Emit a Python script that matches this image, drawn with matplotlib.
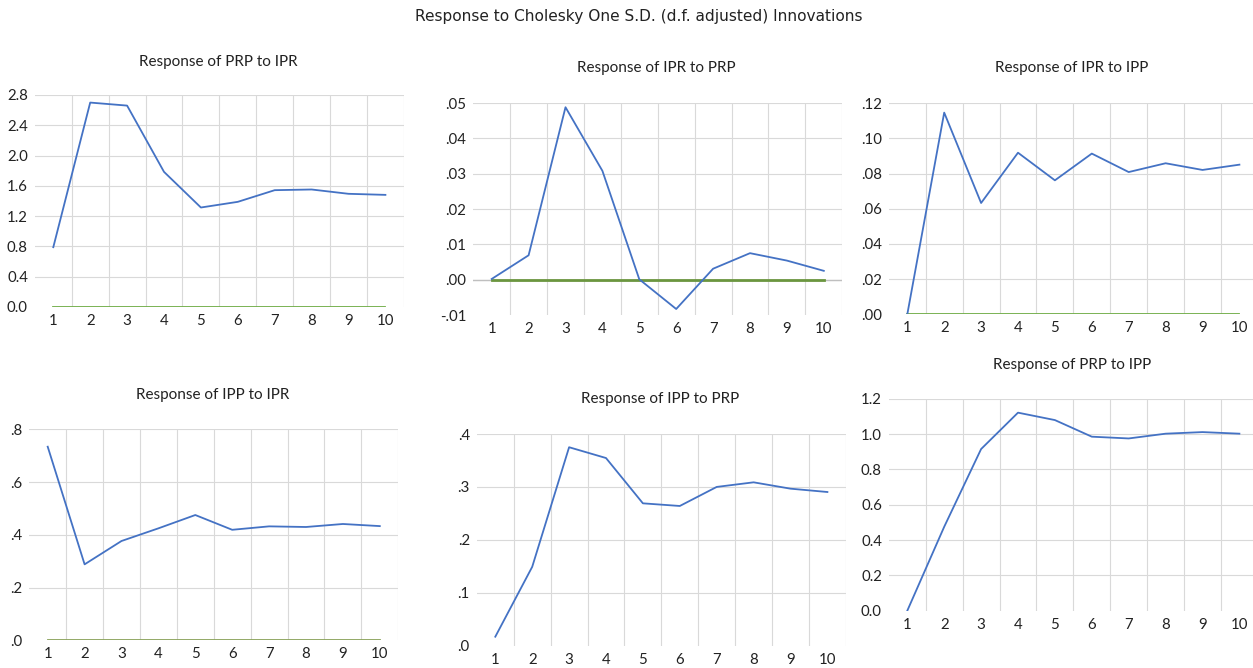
#!/usr/bin/env python3

import numpy as np
import matplotlib.pyplot as plt
from matplotlib.ticker import FuncFormatter

# =========================
# DATA
# =========================
PERIODS = list(range(1, 11))

prp_to_ipr = [0.79, 2.70, 2.66, 1.785, 1.314, 1.389, 1.543, 1.552, 1.495, 1.481]
ipr_to_prp = [0.0002, 0.0069, 0.0488, 0.0308, 0.0001, -0.0083, 0.0031, 0.0075, 0.0054, 0.0025]
ipr_to_ipp = [0.0, 0.1147, 0.0633, 0.0919, 0.0762, 0.0914, 0.0809, 0.0859, 0.0821, 0.0851]
ipp_to_ipr = [0.734, 0.288, 0.3765, 0.4245, 0.475, 0.419, 0.432, 0.4296, 0.441, 0.433]
ipp_to_prp = [0.017, 0.149, 0.375, 0.3546, 0.269, 0.264, 0.300, 0.3087, 0.2967, 0.2904]
prp_to_ipp = [0.0, 0.475, 0.915, 1.121, 1.079, 0.985, 0.975, 1.002, 1.011, 1.002]

TITLES = [
    "Response of PRP to IPR",
    "Response of IPR to PRP",
    "Response of IPR to IPP",
    "Response of IPP to IPR",
    "Response of IPP to PRP",
    "Response of PRP to IPP",
]
SERIES = [prp_to_ipr, ipr_to_prp, ipr_to_ipp, ipp_to_ipr, ipp_to_prp, prp_to_ipp]
YLIMS = [(0.0, 2.8), (-0.01, 0.05), (0.0, 0.12), (0.0, 0.8), (0.0, 0.4), (0.0, 1.2)]
YSTEPS = [0.4, 0.01, 0.02, 0.2, 0.1, 0.2]
# number of decimals, and whether the leading zero is dropped (".05")
YFMT = [(1, False), (2, True), (2, True), (1, True), (1, True), (1, False)]
SHOW_ZERO = [True, True, True, True, False, False]

# =========================
# LAYOUT (pixels)
# =========================
W, H = 1253, 668
SPACING = 36.9
# x pixel of period 1, y pixel of top limit, y pixel of bottom limit
BOXES = [
    (53.3, 95.0, 307.0),
    (491.7, 103.0, 315.0),
    (907.3, 103.3, 314.3),
    (47.7, 429.3, 640.3),
    (495.3, 434.0, 645.7),
    (907.3, 398.7, 610.7),
]
TITLE_POS = [(218, 62), (656, 68), (1072, 68), (213, 395), (660, 399), (1072, 365)]

BLUE = "#4472C4"
GREEN = "#70AD47"
ZERO_GREEN = ["#70AD47", "#6B963F", "#70AD47", "#8AA35A"]
GRID = "#D9D9D9"
FONT = "Lato"


def make_fmt(dec, strip):
    def f(v, pos):
        s = f"{v:.{dec}f}"
        if strip:
            if s.startswith("0."):
                s = s[1:]
            elif s.startswith("-0."):
                s = "-" + s[2:]
        return s
    return FuncFormatter(f)


def main():
    fig = plt.figure(figsize=(W / 100, H / 100), dpi=100)

    fig.text(639 / W, 1 - 16 / H,
             "Response to Cholesky One S.D. (d.f. adjusted) Innovations",
             ha="center", va="center", fontsize=11.1, family="DejaVu Sans",
             color="#222222")

    for i in range(6):
        x1, top, bot = BOXES[i]
        left = x1 - 0.5 * SPACING
        width = 10 * SPACING
        ax = fig.add_axes([left / W, 1 - bot / H, width / W, (bot - top) / H])

        lo, hi = YLIMS[i]
        ax.set_xlim(0.5, 10.5)
        ax.set_ylim(lo, hi)

        yt = np.arange(lo, hi + YSTEPS[i] / 2, YSTEPS[i])
        ax.set_yticks(yt)
        ax.yaxis.set_major_formatter(make_fmt(*YFMT[i]))
        ax.set_xticks(PERIODS)
        ax.set_xticks(np.arange(1.5, 11, 1.0), minor=True)

        for s in ax.spines.values():
            s.set_visible(False)
        ax.tick_params(axis="both", which="both", length=0)
        ax.tick_params(axis="y", pad=5)
        ax.tick_params(axis="x", pad=5)
        for lab in ax.get_xticklabels() + ax.get_yticklabels():
            lab.set_fontfamily(FONT)
            lab.set_fontsize(10.8)
            lab.set_color("#222222")

        ax.grid(True, axis="x", which="minor", color=GRID, lw=0.8)
        for v in yt[1:]:
            ax.axhline(v, color=GRID, lw=0.8, zorder=0)
        if lo < 0:
            ax.axhline(0, color="#BFBFBF", lw=1.0, zorder=1)

        if SHOW_ZERO[i]:
            ax.plot(PERIODS, np.zeros(len(PERIODS)), color=ZERO_GREEN[i],
                    lw=2.0 if lo < 0 else 1.3, zorder=2)
        ax.plot(PERIODS, SERIES[i], color=BLUE, lw=1.3, zorder=3)

        tx, ty = TITLE_POS[i]
        fig.text(tx / W, 1 - ty / H, TITLES[i], ha="center", va="center",
                 fontsize=11, family=FONT, color="#222222")

    fig.savefig("out.png", dpi=100)


if __name__ == "__main__":
    main()
